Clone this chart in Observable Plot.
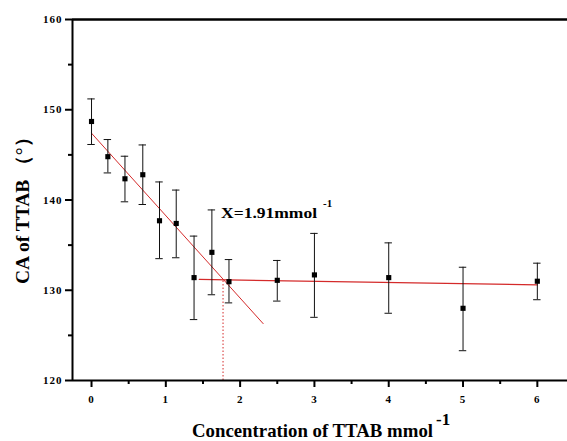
<!DOCTYPE html>
<html>
<head>
<meta charset="utf-8">
<script src="https://cdn.jsdelivr.net/npm/d3@7"></script>
<script src="https://cdn.jsdelivr.net/npm/@observablehq/plot@0.6"></script>
<style>
  html, body { margin: 0; padding: 0; background: #fff; }
  #chart { width: 567px; height: 441px; }
</style>
</head>
<body>
<div id="chart"></div>
<script>
// Data
const conc   = [0, 0.22, 0.45, 0.69, 0.915, 1.14, 1.38, 1.62, 1.85, 2.5, 3.0, 4.0, 5.0, 6.0];
const ca     = [148.7, 144.8, 142.35, 142.8, 137.7, 137.4, 131.4, 134.2, 130.95, 131.1, 131.7, 131.4, 128.0, 131.0];
const errTop = [151.2, 146.7, 144.85, 146.1, 142.0, 141.1, 136.0, 138.9, 133.4, 133.3, 136.3, 135.25, 132.55, 133.0];
const errBot = [146.15, 143.0, 139.8, 139.5, 133.5, 133.6, 126.75, 129.5, 128.6, 128.8, 127.0, 127.45, 123.3, 128.95];

const fit1X = [0, 2.31];
const fit1Y = [147.4, 126.3];
const fit2X = [1.45, 6.0];
const fit2Y = [131.2, 130.6];
const cmcX = 1.77;
const cmcY = 131.2;

const yTicks = [120, 130, 140, 150, 160];
const yMinor = [125, 135, 145, 155];
const xTicks = [0, 1, 2, 3, 4, 5, 6];
const xMinor = [0.5, 1.5, 2.5, 3.5, 4.5, 5.5];

const annText = "X=1.91mmol";
const annSup = "-1";
const annX = 1.75, annY = 137.95;
const yLabel = "CA of TTAB （°）";
const xLabel = "Concentration of TTAB mmol";
const xLabelSup = "-1";

const pts = conc.map((x, i) => ({x, y: ca[i], hi: errTop[i], lo: errBot[i]}));
const fit1 = fit1X.map((x, i) => ({x, y: fit1Y[i]}));
const fit2 = fit2X.map((x, i) => ({x, y: fit2Y[i]}));

const xDomain = [-0.256, 6.406];
const serif = "'Liberation Serif', 'Times New Roman', serif";
const red = "#d42a2a";

const plot = Plot.plot({
  width: 567,
  height: 441,
  marginLeft: 72,
  marginRight: 0,
  marginTop: 19,
  marginBottom: 61,
  style: {fontFamily: serif},
  x: {domain: xDomain},
  y: {domain: [120, 160]},
  marks: [
    // fits
    Plot.line(fit1, {x: "x", y: "y", stroke: red, strokeWidth: 1}),
    Plot.line(fit2, {x: "x", y: "y", stroke: red, strokeWidth: 1.2}),
    Plot.ruleX([cmcX], {y1: 120, y2: cmcY, stroke: red, strokeWidth: 1, strokeDasharray: "1.5,2"}),
    // error bars
    Plot.ruleX(pts, {x: "x", y1: "lo", y2: "hi", stroke: "#111", strokeWidth: 1}),
    Plot.ruleY(pts, {y: "hi", x1: d => d.x - 0.05, x2: d => d.x + 0.05, stroke: "#111", strokeWidth: 1}),
    Plot.ruleY(pts, {y: "lo", x1: d => d.x - 0.05, x2: d => d.x + 0.05, stroke: "#111", strokeWidth: 1}),
    Plot.dot(pts, {x: "x", y: "y", symbol: "square", r: 2.9, fill: "#000", stroke: null}),
    // axes: major ticks + labels, minor ticks
    Plot.axisY({ticks: yTicks, tickSize: 7, tickPadding: 3, tickFormat: d => String(d), fontSize: 11, fontWeight: "bold", label: null, stroke: "#000", strokeWidth: 2}),
    Plot.axisY({ticks: yMinor, tickSize: 4, tickFormat: () => "", label: null, stroke: "#000", strokeWidth: 2}),
    Plot.axisX({ticks: xTicks, tickSize: 7, tickPadding: 8, tickFormat: d => String(d), fontSize: 11, fontWeight: "bold", label: null, stroke: "#000", strokeWidth: 2}),
    Plot.axisX({ticks: xMinor, tickSize: 4, tickFormat: () => "", label: null, stroke: "#000", strokeWidth: 2}),
    Plot.ruleX([xDomain[0]], {stroke: "#000", strokeWidth: 2}),
    Plot.ruleY([120], {stroke: "#000", strokeWidth: 2}),
    Plot.ruleY([160], {stroke: "#000", strokeWidth: 2.5})
  ]
});

const svg = d3.select(plot);
const sx = plot.scale("x"), sy = plot.scale("y");
svg.selectAll("g[aria-label$='tick label'] text").attr("letter-spacing", "1");

// annotation
const ann = svg.append("text")
  .attr("x", sx.apply(annX))
  .attr("y", sy.apply(annY))
  .attr("text-anchor", "start")
  .attr("font-family", serif)
  .attr("font-size", 14)
  .attr("font-weight", "bold")
  .attr("fill", "#000");
ann.append("tspan").attr("textLength", 96).attr("lengthAdjust", "spacingAndGlyphs").text(annText);
ann.append("tspan").attr("dx", 6).attr("dy", -11).attr("font-size", 11).text(annSup);

// y label
svg.append("text")
  .attr("transform", "translate(29,206) rotate(-90)")
  .attr("text-anchor", "middle")
  .attr("font-family", serif)
  .attr("font-size", 19)
  .attr("font-weight", "bold")
  .attr("fill", "#000")
  .attr("textLength", 156)
  .attr("lengthAdjust", "spacingAndGlyphs")
  .text(yLabel);
// x label
const xl = svg.append("text")
  .attr("x", 192)
  .attr("y", 437)
  .attr("text-anchor", "start")
  .attr("font-family", serif)
  .attr("font-size", 19)
  .attr("font-weight", "bold")
  .attr("fill", "#000");
xl.append("tspan").attr("textLength", 241).attr("lengthAdjust", "spacingAndGlyphs").text(xLabel);
xl.append("tspan").attr("dx", 3).attr("dy", -12).attr("font-size", 17).text(xLabelSup);

document.getElementById("chart").appendChild(plot);
</script>
</body>
</html>
